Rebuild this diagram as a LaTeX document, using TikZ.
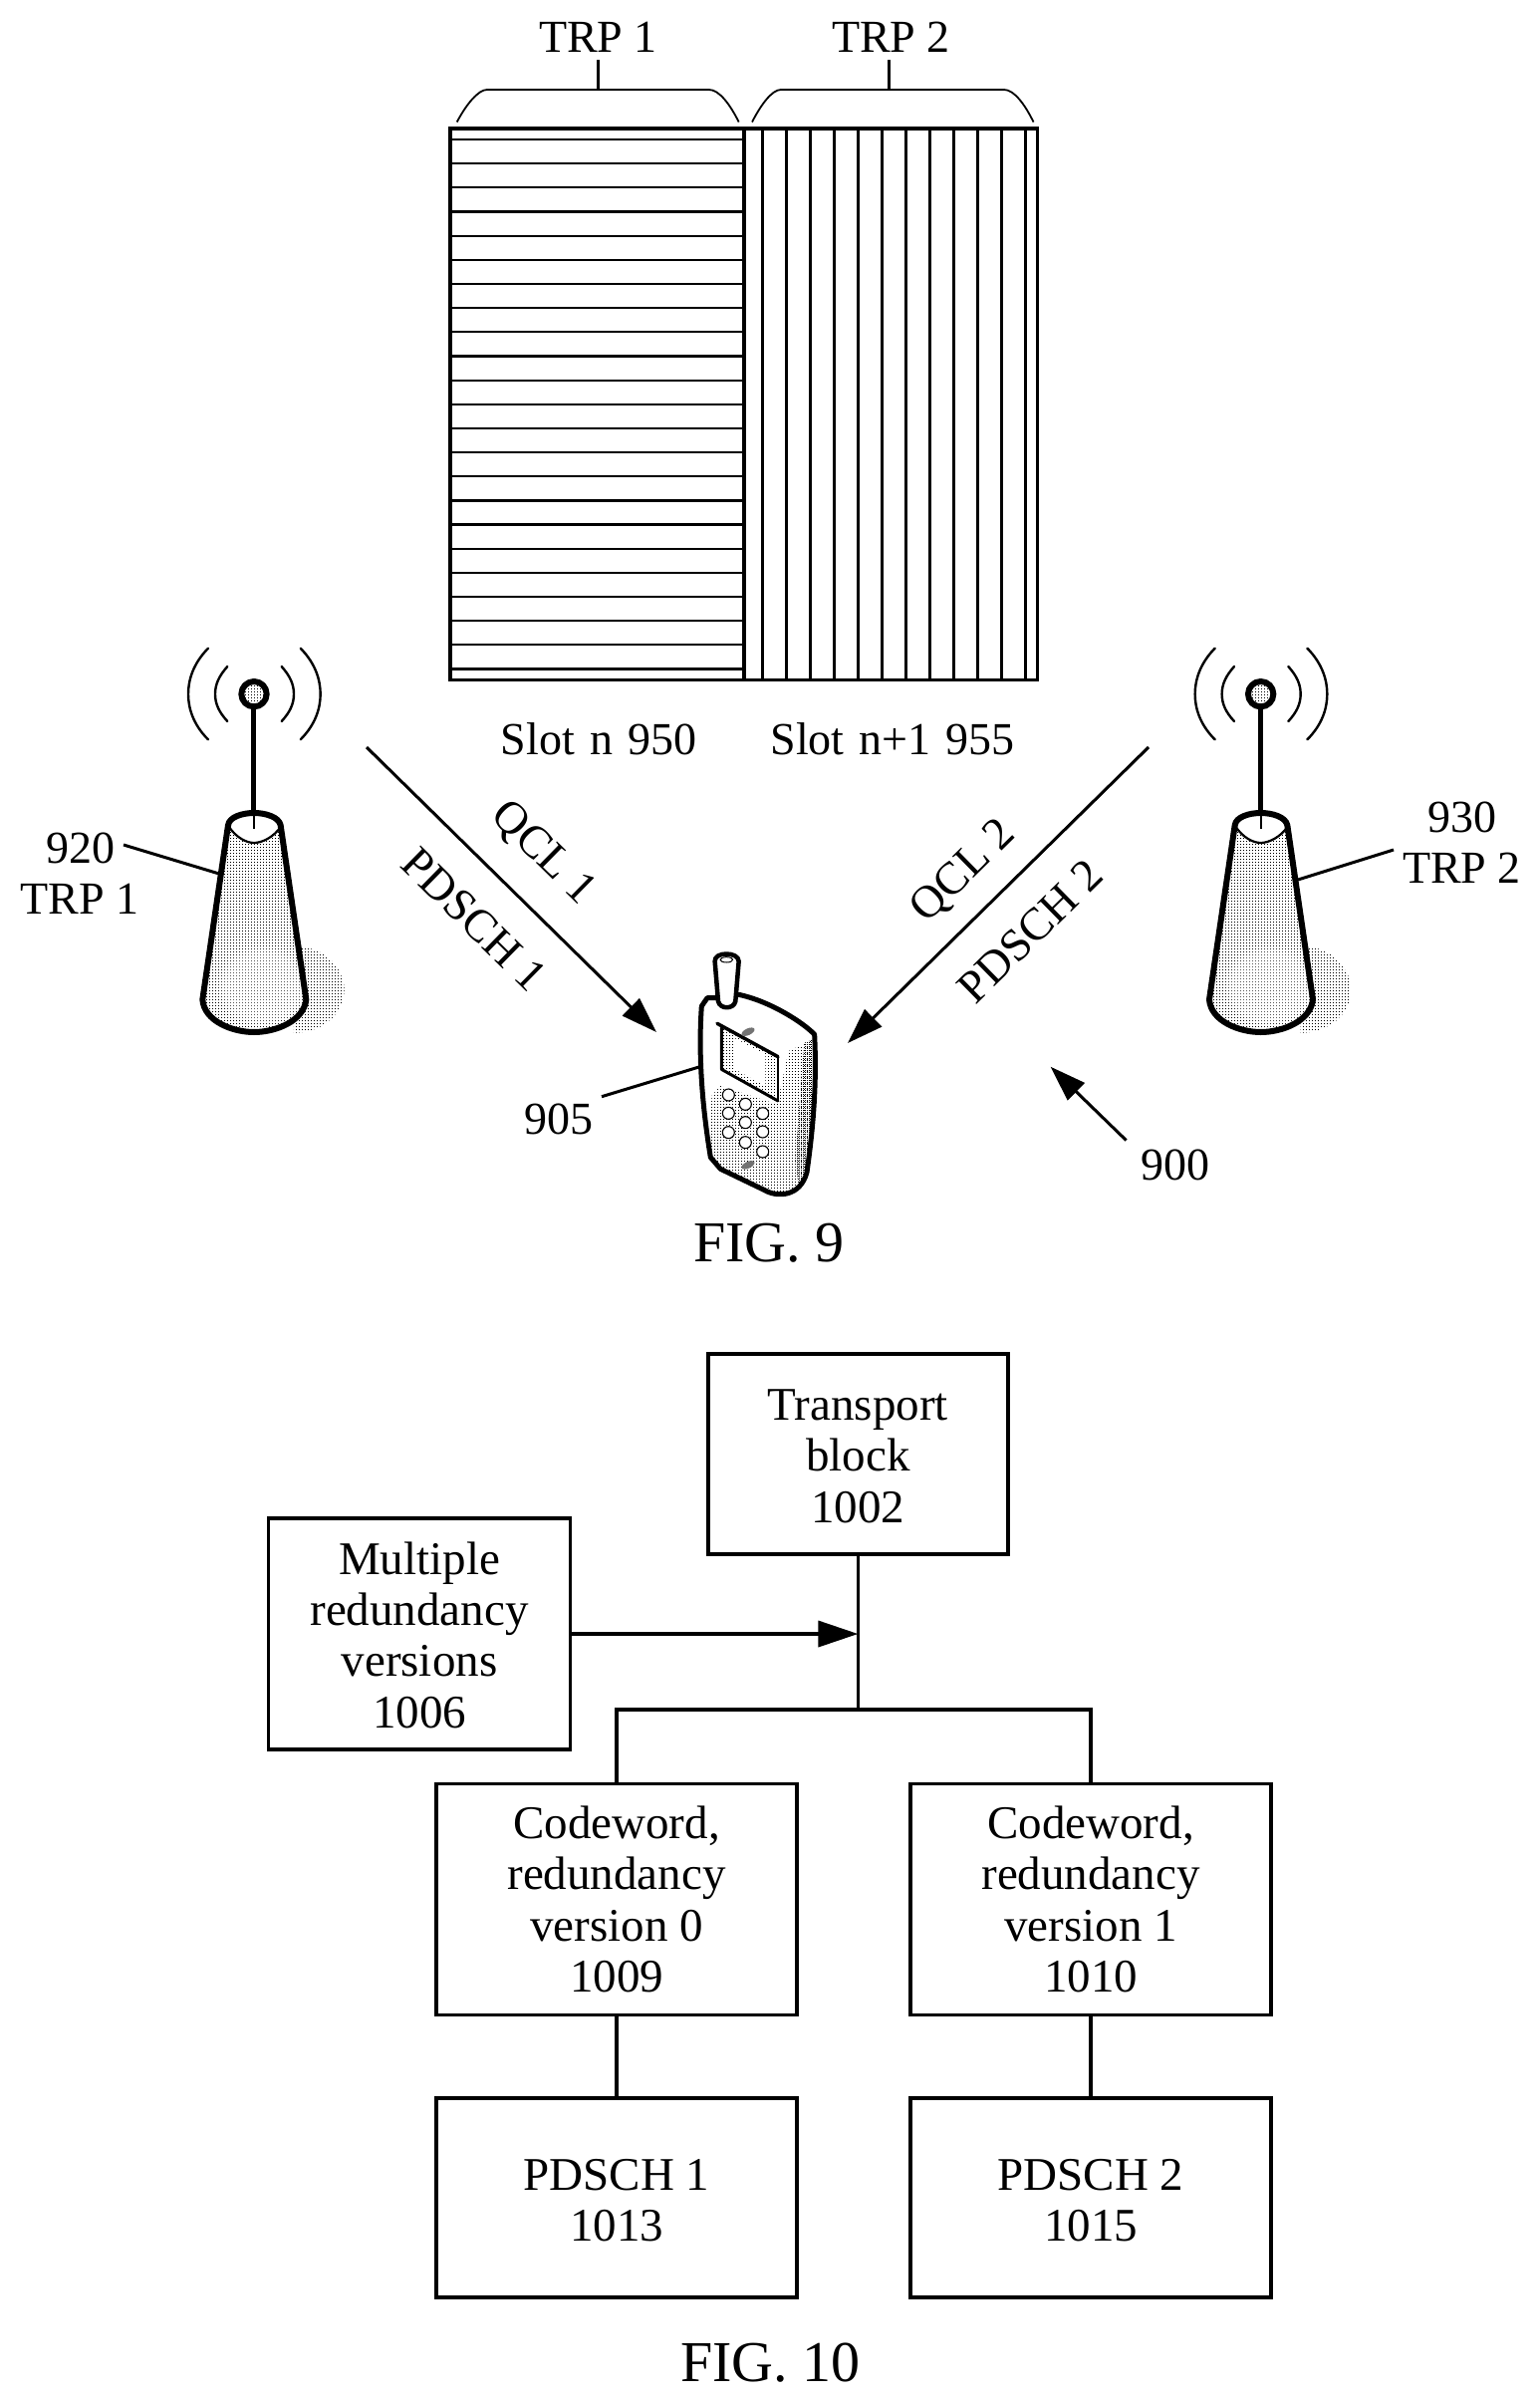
\documentclass[tikz,border=0pt]{standalone}
\usepackage{fontspec}
\setmainfont{Liberation Serif}
\usetikzlibrary{arrows.meta,patterns,fadings,calc}
\pgfdeclarepatternformonly{stip}{\pgfqpoint{-1pt}{-1pt}}{\pgfqpoint{4pt}{4pt}}{\pgfqpoint{3pt}{3pt}}{%
  \pgfpathrectangle{\pgfqpoint{0pt}{0pt}}{\pgfqpoint{1.4pt}{1.4pt}}\pgfusepath{fill}}
\pgfdeclarepatternformonly{stipd}{\pgfqpoint{-1pt}{-1pt}}{\pgfqpoint{3pt}{3pt}}{\pgfqpoint{2pt}{2pt}}{%
  \pgfpathrectangle{\pgfqpoint{0pt}{0pt}}{\pgfqpoint{1.1pt}{1.1pt}}\pgfusepath{fill}}
\newcommand{\fsn}{\fontsize{46}{51.3}\selectfont}
\newcommand{\fsb}{\fontsize{47}{51.3}\selectfont}
\newcommand{\fsf}{\fontsize{58}{62}\selectfont}
\newcommand{\fss}{\fsn\spaceskip 15pt plus 0pt\relax}
\newcommand{\lift}[1]{\rule{0pt}{#1pt}}
\tikzset{
  box/.style={draw,line width=3.8pt,inner sep=0pt,align=center,font=\fsb},
  lbl/.style={inner sep=0pt,font=\fsn,anchor=base},
  slotlbl/.style={inner sep=0pt,font=\fss,anchor=base},
  figlbl/.style={inner sep=0pt,font=\fsf,anchor=base},
  rotlbl/.style={inner sep=0pt,font=\fsn,anchor=center},
  wire/.style={line width=3.3pt},
  leader/.style={line width=3pt},
  bigarrow/.style={line width=3pt,-{Triangle[length=36pt,width=24pt]}},
  antenna/.pic={
    \begin{scope}[x=0.33333pt,y=-0.33333pt,line cap=round,line join=round]
      % shadow
      \fill[pattern=stip] (880,990) .. controls (980,985) and (1037,1060) .. (1037,1120) .. controls (1037,1200) and (960,1252) .. (885,1250) -- cycle;
      % cone
      \path[fill=white] (687,625) -- (610,1150) .. controls (615,1215) and (700,1248) .. (765,1248) .. controls (830,1248) and (915,1215) .. (922,1150) -- (845,625) .. controls (840,600) and (800,588) .. (765,588) .. controls (730,588) and (690,600) .. (687,625) -- cycle;
      \fill[pattern=stip] (687,625) -- (610,1150) .. controls (615,1215) and (700,1248) .. (765,1248) .. controls (830,1248) and (915,1215) .. (922,1150) -- (845,625) .. controls (840,640) and (800,678) .. (765,678) .. controls (730,678) and (690,640) .. (687,625) -- cycle;
      \fill[white,opacity=0.35,path fading=circle with fuzzy edge 20 percent] (790,1110) ellipse [x radius=140,y radius=125];
      \draw[line width=6pt] (687,625) -- (610,1150) .. controls (615,1215) and (700,1248) .. (765,1248) .. controls (830,1248) and (915,1215) .. (922,1150) -- (845,625) .. controls (840,600) and (800,588) .. (765,588) .. controls (730,588) and (690,600) .. (687,625) -- cycle;
      \draw[line width=2.2pt] (690,630) .. controls (710,660) and (740,678) .. (765,678) .. controls (790,678) and (825,660) .. (845,630);
      % mast
      \draw[line width=5pt,line cap=butt] (765,262) -- (765,590);
      \draw[line width=2.2pt,line cap=butt] (765,590) -- (765,635);
      \fill[pattern=stip] (765,230) circle [radius=38];
      \draw[line width=6pt] (765,230) circle [radius=38];
      % waves
      \draw[line width=2.4pt] (627,92) .. controls (580,140) and (567,190) .. (567,230) .. controls (567,270) and (580,320) .. (627,367);
      \draw[line width=2.4pt] (685,147) .. controls (660,175) and (648,200) .. (648,230) .. controls (648,260) and (660,285) .. (685,312);
      \draw[line width=2.4pt] (905,92) .. controls (952,140) and (965,190) .. (965,230) .. controls (965,270) and (952,320) .. (905,367);
      \draw[line width=2.4pt] (848,147) .. controls (873,175) and (885,200) .. (885,230) .. controls (885,260) and (873,285) .. (848,312);
    \end{scope}
  }
}
\begin{document}
\begin{tikzpicture}[x=1pt,y=-1pt]
\useasboundingbox (0,0) rectangle (1546,2411);
\fill[white] (0,0) rectangle (1546,2411);

% --- slot grid ---
\foreach \k in {0,...,22} \draw[line width=2.2pt] (452,{140+24.16*\k}) -- (747,{140+24.16*\k});
\foreach \k in {0,...,11} \draw[line width=2.2pt] ({765.4+24*\k},129) -- ({765.4+24*\k},682.5);
\draw[line width=3.2pt] (452,129) rectangle (1041.5,682.5);
\draw[line width=4.5pt] (747,129) -- (747,682.5);

% --- braces ---
\draw[line width=1.8pt] (458.7,122.5) .. controls (468,105) and (480,90) .. (489,90) -- (711.7,90) .. controls (722,90) and (733,105) .. (741.7,122.5);
\draw[line width=3pt] (600,60) -- (600,90);
\draw[line width=1.8pt] (755,122.5) .. controls (764,105) and (775,90) .. (784,90) -- (1008,90) .. controls (1018,90) and (1029,105) .. (1037.5,122.5);
\draw[line width=3pt] (892,60) -- (892,90);

\node[lbl] (trpa) at (600.5,52.5) {TRP 1};
\node[lbl] (trpb) at (894.5,52.5) {TRP 2};
\node[slotlbl] (slota) at (601,757.5) {Slot n 950};
\node[slotlbl] (slotb) at (896,757.5) {Slot n+1 955};

% --- antennas ---
\pic at (0,620) {antenna};
\pic at (1010.67,620) {antenna};
\node[lbl] (n920) at (81,866) {920};
\node[lbl] (ntrpa) at (80,917) {TRP 1};
\node[lbl] (n930) at (1467.7,835) {930};
\node[lbl] (ntrpb) at (1467.5,886) {TRP 2};
\coordinate (l920a) at (124,848); \coordinate (l920b) at (220,877);
\coordinate (l930a) at (1399,853); \coordinate (l930b) at (1303,883);
\draw[leader] (l920a) -- (l920b);
\draw[leader] (l930a) -- (l930b);

% --- phone ---
\begin{scope}[shift={(520,930)},x=0.33333pt,y=-0.33333pt,line join=round,line cap=round]
  \path[fill=white] (600,215) -- (570,215) -- (553,240) .. controls (545,350) and (548,500) .. (580,695) -- (610,730) -- (745,795) .. controls (780,815) and (850,815) .. (870,740) .. controls (890,600) and (900,470) .. (893,325) .. controls (860,290) and (760,225) .. (665,205) -- cycle;
  \fill[pattern=stip] (583,510) -- (610,480) -- (780,535) -- (815,375) -- (890,340) -- (895,470) -- (870,740) -- (850,780) -- (800,808) -- (745,795) -- (610,730) -- (580,690) -- cycle;
  \fill[pattern=stipd] (862,350) -- (890,340) -- (893,470) -- (870,740) -- (845,785) -- (835,700) -- cycle;
  \fill[pattern=stip] (613,305) -- (783,395) -- (783,525) -- (613,430) -- cycle;
  \fill[white] (650,335) -- (745,385) -- (745,480) -- (650,428) -- cycle;
  \draw[line width=3.5pt] (600,292) -- (783,392);
  \draw[line width=3pt] (613,305) -- (613,430) -- (783,525);
  \draw[line width=1.6pt] (783,392) -- (783,525);
  \draw[line width=5pt] (600,215) -- (570,215) -- (553,240) .. controls (545,350) and (548,500) .. (580,695) -- (610,730) -- (745,795) .. controls (780,815) and (850,815) .. (870,740) .. controls (890,600) and (900,470) .. (893,325) .. controls (860,290) and (760,225) .. (665,205);
  % aerial
  \draw[line width=4.5pt,fill=white] (603,225) -- (593,105) .. controls (590,75) and (665,75) .. (665,105) -- (655,225) .. controls (650,250) and (608,250) .. (603,225) -- cycle;
  \draw[line width=1pt,fill=white] (628,100) ellipse [x radius=19,y radius=8];
  % speaker and mic
  \fill[black!55,rotate around={25:(693,317)}] (693,317) ellipse [x radius=21,y radius=10];
  \fill[black!55,rotate around={25:(693,718)}] (693,718) ellipse [x radius=21,y radius=10];
  % keys
  \foreach \px/\py in {634/507,685/535,737/563,634/562,685/590,737/618,634/620,685/650,737/678}
    \draw[line width=1.1pt,fill=white] (\px,\py) circle [radius=18];
\end{scope}
\coordinate (l905a) at (604,1100.7); \coordinate (l905b) at (702.7,1070.7);
\draw[leader] (l905a) -- (l905b);
\node[lbl] (n905) at (561,1138) {905};

% --- radio arrows ---
\coordinate (aas) at (368,750); \coordinate (aat) at (659,1036);
\coordinate (abs) at (1153,750); \coordinate (abt) at (851,1047);
\coordinate (acs) at (1130.5,1144.5); \coordinate (act) at (1054.6,1070.7);
\draw[bigarrow] (aas) -- (aat);
\draw[bigarrow] (abs) -- (abt);
\draw[bigarrow] (acs) -- (act);
\node[lbl] (n900) at (1180,1184.5) {900};
\node[rotlbl,rotate=-44.5] (qa) at (545,857) {QCL 1};
\node[rotlbl,rotate=-44.5] (pa) at (476,923) {PDSCH 1};
\node[rotlbl,rotate=44.5] (qb) at (968,875) {QCL 2};
\node[rotlbl,rotate=44.5] (pb) at (1034,935) {PDSCH 2};
\node[figlbl] (figa) at (772,1266) {FIG. 9};

% --- FIG 10 ---
\node[box,minimum width=301.3pt,minimum height=201pt] (tb) at (861.4,1459.5) {\lift{35}Transport\\block\\1002};
\node[box,minimum width=303pt,minimum height=232pt] (multi) at (421,1640) {\lift{35}Multiple\\redundancy\\versions\\1006};
\node[box,minimum width=362.5pt,minimum height=232pt] (cwa) at (619,1906.5) {Codeword,\\redundancy\\version 0\\1009};
\node[box,minimum width=362.5pt,minimum height=232pt] (cwb) at (1095,1906.5) {Codeword,\\redundancy\\version 1\\1010};
\node[box,minimum width=362.5pt,minimum height=200pt] (pda) at (619,2206) {\lift{37}PDSCH 1\\1013};
\node[box,minimum width=362.5pt,minimum height=200pt] (pdb) at (1095,2206) {\lift{37}PDSCH 2\\1015};
\coordinate (split) at (861.4,1716);
\draw[wire] (tb.south) -- (split);
\draw[wire,line cap=rect] (cwa.north) |- (split);
\draw[wire] (split) -| (cwb.north);
\draw[wire,line width=3.5pt,-{Triangle[length=40pt,width=26pt]}] (multi.east) -- (multi.east -| tb.south);
\draw[wire] (cwa.south) -- (pda.north);
\draw[wire] (cwb.south) -- (pdb.north);
\node[figlbl] (figb) at (773.5,2390) {FIG. 10};
\end{tikzpicture}
\end{document}
